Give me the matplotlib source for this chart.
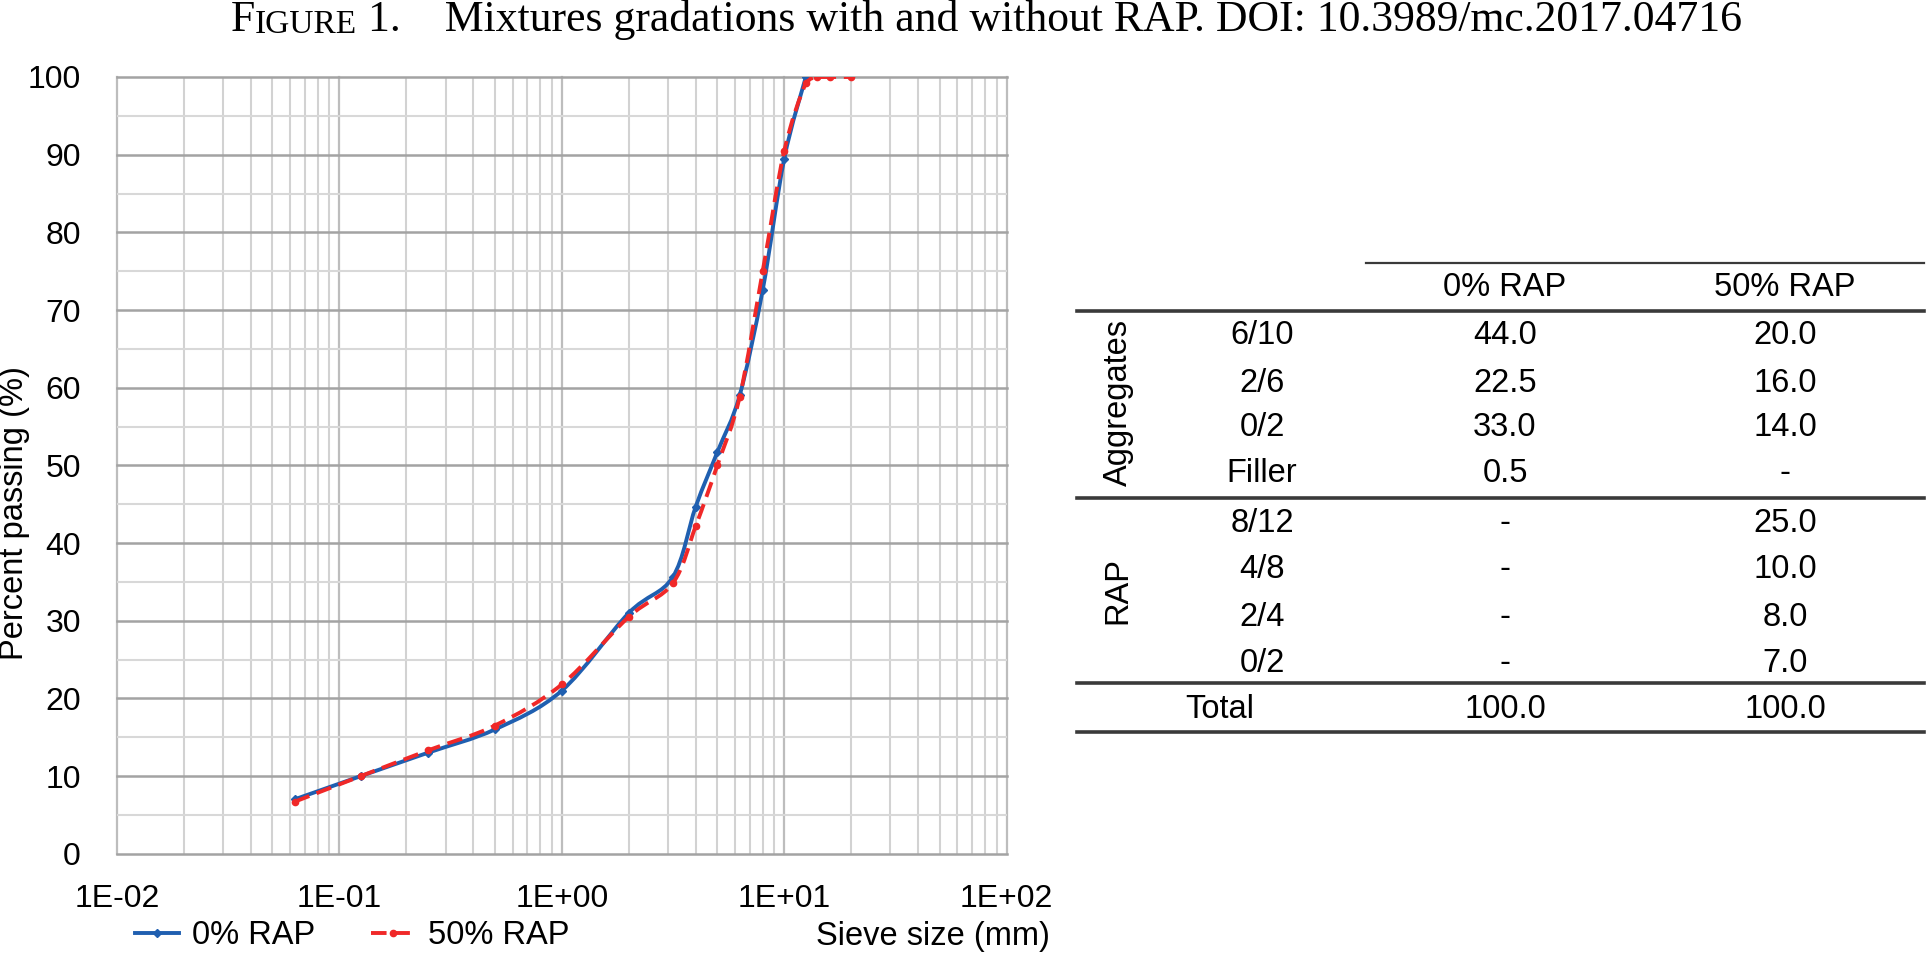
import matplotlib
matplotlib.use("Agg")
import numpy as np
import matplotlib.pyplot as plt
from matplotlib.lines import Line2D
from matplotlib.path import Path
from matplotlib.patches import PathPatch
from matplotlib.ticker import LogLocator, FixedLocator, NullFormatter

# gradation curves (sieve size mm, percent passing)
sieve_0 = [0.063, 0.125, 0.25, 0.5, 1, 2, 3.15, 4, 5, 6.3, 8, 10, 12.5]
pass_0 = [7.0, 10.0, 13.0, 16.0, 21.0, 31.0, 35.6, 44.7, 51.7, 59.0, 72.6, 89.5, 100.0]
sieve_50 = [0.063, 0.125, 0.25, 0.5, 1, 2, 3.15, 4, 5, 6.3, 8, 10, 12.5, 14, 16, 20]
pass_50 = [6.7, 10.0, 13.3, 16.5, 21.8, 30.5, 34.8, 42.2, 50.0, 58.8, 75.0, 90.5, 99.2, 100.0, 100.0, 100.0]
x_ticks = [0.01, 0.1, 1, 10, 100]
x_labels = ["1E-02", "1E-01", "1E+00", "1E+01", "1E+02"]

# composition table
col_heads = ["0% RAP", "50% RAP"]
agg_rows = ["6/10", "2/6", "0/2", "Filler"]
agg_0 = ["44.0", "22.5", "33.0", "0.5"]
agg_50 = ["20.0", "16.0", "14.0", "-"]
rap_rows = ["8/12", "4/8", "2/4", "0/2"]
rap_0 = ["-", "-", "-", "-"]
rap_50 = ["25.0", "10.0", "8.0", "7.0"]
total = ["100.0", "100.0"]

W, H = 1928, 960


def fx(x):
    return x / W


def fy(y):
    return 1 - y / H


def smooth_path(xs, ys):
    # excel-like smoothed line: bezier through the points, built in log-x space
    lx = np.log10(xs)
    y = np.asarray(ys, dtype=float)
    n = len(lx)
    verts = [(xs[0], y[0])]
    codes = [Path.MOVETO]
    for i in range(n - 1):
        i0 = max(i - 1, 0)
        i3 = min(i + 2, n - 1)
        c1 = (lx[i] + (lx[i + 1] - lx[i0]) / 6, y[i] + (y[i + 1] - y[i0]) / 6)
        c2 = (lx[i + 1] - (lx[i3] - lx[i]) / 6, y[i + 1] - (y[i3] - y[i]) / 6)
        verts += [(10 ** c1[0], min(c1[1], 100)), (10 ** c2[0], min(c2[1], 100)), (xs[i + 1], y[i + 1])]
        codes += [Path.CURVE4] * 3
    return Path(verts, codes)


plt.rcParams['font.family'] = ['Liberation Sans', 'DejaVu Sans']
fs = 23.5
fig = plt.figure(figsize=(W / 100, H / 100), dpi=100)
ax = fig.add_axes([fx(117), fy(853.7), fx(1006.7) - fx(117), fy(77) - fy(853.7)])

blue = '#1f5fb0'
red = '#f02828'
ax.add_patch(PathPatch(smooth_path(sieve_0, pass_0), fc='none', ec=blue, lw=2.8, zorder=3))
ax.plot(sieve_0, pass_0, ls='none', color=blue, marker='D', ms=4, zorder=3)
ax.add_patch(PathPatch(smooth_path(sieve_50, pass_50), fc='none', ec=red, lw=2.8,
                       ls=(0, (4, 2)), zorder=4))
ax.plot(sieve_50, pass_50, ls='none', color=red, marker='o', ms=4.5, zorder=4)

ax.set_xscale('log')
ax.set_xlim(0.01, 100)
ax.set_ylim(0, 100)
ax.xaxis.set_major_locator(FixedLocator(x_ticks))
ax.set_xticklabels(x_labels)
ax.xaxis.set_minor_locator(LogLocator(base=10, subs=range(2, 10)))
ax.xaxis.set_minor_formatter(NullFormatter())
ax.set_yticks(range(0, 101, 10))
ax.set_yticks(range(5, 100, 10), minor=True)

ax.grid(axis='x', which='major', color='#bdbdbd', lw=1.6)
ax.grid(axis='x', which='minor', color='#d2d2d2', lw=1.5)
ax.grid(axis='y', which='major', color='#a3a3a3', lw=1.8)
ax.grid(axis='y', which='minor', color='#d8d8d8', lw=1.5)
for gl in ax.get_xgridlines() + ax.get_ygridlines():
    gl.set_clip_on(False)
for s in ax.spines.values():
    s.set_visible(False)
ax.tick_params(which='both', length=0)
ax.tick_params(axis='y', labelsize=23, pad=26)
ax.tick_params(axis='x', labelsize=23, pad=22)
ax.set_axisbelow(True)

fig.text(fx(15), fy(513), "Percent passing (%)", rotation=90, ha='center', va='center', fontsize=fs)
fig.text(fx(1050), fy(936), "Sieve size (mm)", ha='right', va='center', fontsize=fs)

handles = [Line2D([], [], color=blue, lw=2.8, marker='D', ms=4),
           Line2D([], [], color=red, lw=2.8, ls=(0, (4, 2)), marker='o', ms=4.5)]
fig.legend(handles, col_heads, loc='center left', bbox_to_anchor=(fx(135), fy(936)), ncol=2,
           frameon=False, fontsize=fs, handlelength=1.35, handletextpad=0.4, columnspacing=1.7,
           borderpad=0, borderaxespad=0)

# title with small caps "Figure"
t1 = fig.text(fx(231), fy(31), "F", fontsize=31.5, family='Liberation Serif', va='baseline')
t2 = ax.annotate("IGURE", xy=(1, 0), xycoords=t1, fontsize=24, family='Liberation Serif',
                 va='bottom', annotation_clip=False)
ax.annotate(" 1.    Mixtures gradations with and without RAP. DOI: 10.3989/mc.2017.04716",
            xy=(1, 0), xycoords=t2, fontsize=31.5, family='Liberation Serif',
            va='bottom', annotation_clip=False)

# table
c_lab, c_0, c_50 = 1262, 1505, 1785
for x, s in zip([c_0, c_50], col_heads):
    fig.text(fx(x), fy(287), s, ha='center', va='center', fontsize=fs)
row_y_agg = [336, 383, 427, 473]
row_y_rap = [523, 570, 617, 663]
for y, a, b, c in zip(row_y_agg, agg_rows, agg_0, agg_50):
    fig.text(fx(c_lab), fy(y), a, ha='center', va='center', fontsize=fs)
    fig.text(fx(c_0), fy(y), b, ha='center', va='center', fontsize=fs)
    fig.text(fx(c_50), fy(y), c, ha='center', va='center', fontsize=fs)
for y, a, b, c in zip(row_y_rap, rap_rows, rap_0, rap_50):
    fig.text(fx(c_lab), fy(y), a, ha='center', va='center', fontsize=fs)
    fig.text(fx(c_0), fy(y), b, ha='center', va='center', fontsize=fs)
    fig.text(fx(c_50), fy(y), c, ha='center', va='center', fontsize=fs)
fig.text(fx(1220), fy(709), "Total", ha='center', va='center', fontsize=fs)
fig.text(fx(c_0), fy(709), total[0], ha='center', va='center', fontsize=fs)
fig.text(fx(c_50), fy(709), total[1], ha='center', va='center', fontsize=fs)
fig.text(fx(1118), fy(403), "Aggregates", rotation=90, ha='center', va='center', fontsize=fs)
fig.text(fx(1118), fy(590), "RAP", rotation=90, ha='center', va='center', fontsize=fs)

rules = [(1366, 262.7, 1.6), (1077, 310.7, 2.6), (1077, 497.7, 2.6), (1077, 683.3, 2.6), (1077, 731.7, 2.6)]
for x0, y, lw in rules:
    fig.add_artist(Line2D([fx(x0), fx(1924)], [fy(y), fy(y)], transform=fig.transFigure,
                          color='#3a3a3a', lw=lw))

fig.savefig("out.png", dpi=100)
